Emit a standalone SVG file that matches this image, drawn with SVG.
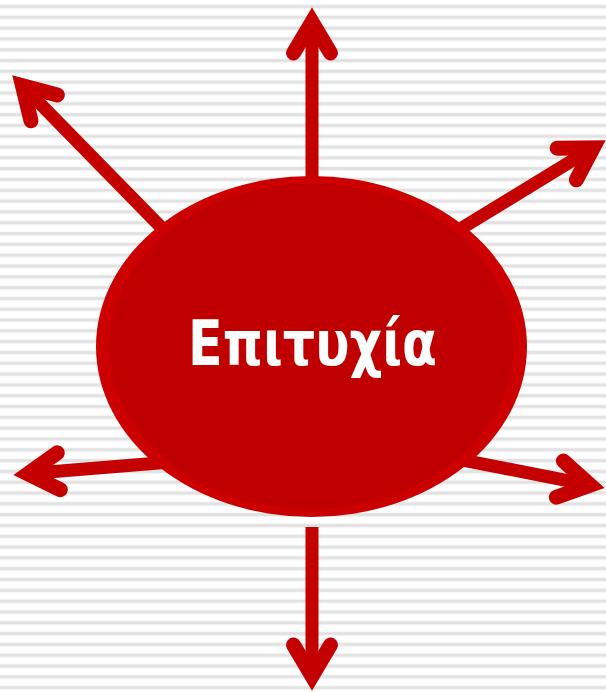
<svg xmlns="http://www.w3.org/2000/svg" xmlns:xlink="http://www.w3.org/1999/xlink" width="606" height="692" viewBox="0 0 606 692">
<style>
.shaft{stroke:#c40000;stroke-width:13;fill:none}
.head{stroke:#c40000;stroke-width:15;fill:none;stroke-linecap:round;stroke-linejoin:miter;stroke-miterlimit:10}
.label{font-family:"Comic Sans MS","DejaVu Sans","Noto Sans",sans-serif;font-weight:bold;font-size:62px;fill:#ffffff}
</style>
<defs>
<pattern id="stripes" x="0" y="0" width="606" height="10.8125" patternUnits="userSpaceOnUse">
<rect x="0" y="5" width="606" height="3" fill="#e2e2e2"/>
<rect x="0" y="4.5" width="606" height="4" fill="#e2e2e2" opacity="0.4"/>
</pattern>
<path id="head" class="head" d="M -46 -18.5 L -15 0 L -46 18.5"/>
</defs>
<rect x="0" y="0" width="606" height="692" fill="#ffffff"/>
<rect x="0" y="0" width="606" height="692" fill="url(#stripes)"/>
<g id="connectors">
<line class="shaft" x1="312" y1="200" x2="312" y2="21"/>
<use xlink:href="#head" transform="translate(312,7) rotate(-90)"/>
<line class="shaft" x1="312" y1="527" x2="312" y2="677"/>
<use xlink:href="#head" transform="translate(312,691) rotate(90)"/>
<line class="shaft" x1="200" y1="267" x2="21.8" y2="85"/>
<use xlink:href="#head" transform="translate(12,75) rotate(-134.4)"/>
<line class="shaft" x1="435.3" y1="244.2" x2="594" y2="147.3"/>
<use xlink:href="#head" transform="translate(606,140) rotate(-31.4)"/>
<line class="shaft" x1="192.4" y1="460.25" x2="26.95" y2="473.85"/>
<use xlink:href="#head" transform="translate(13,475) rotate(175.3)"/>
<line class="shaft" x1="428.4" y1="453.35" x2="591.3" y2="485.3"/>
<use xlink:href="#head" transform="translate(605,488) rotate(11.1)"/>
</g>
<g id="node-epitychia">
<ellipse cx="311.5" cy="346.5" rx="215.5" ry="170.5" fill="#cc0000"/>
<ellipse cx="311.5" cy="346.5" rx="202" ry="163" fill="#c00000"/>
<text class="label" x="312.5" y="365" text-anchor="middle" textLength="249" lengthAdjust="spacingAndGlyphs">Επιτυχία</text>
</g>
</svg>
